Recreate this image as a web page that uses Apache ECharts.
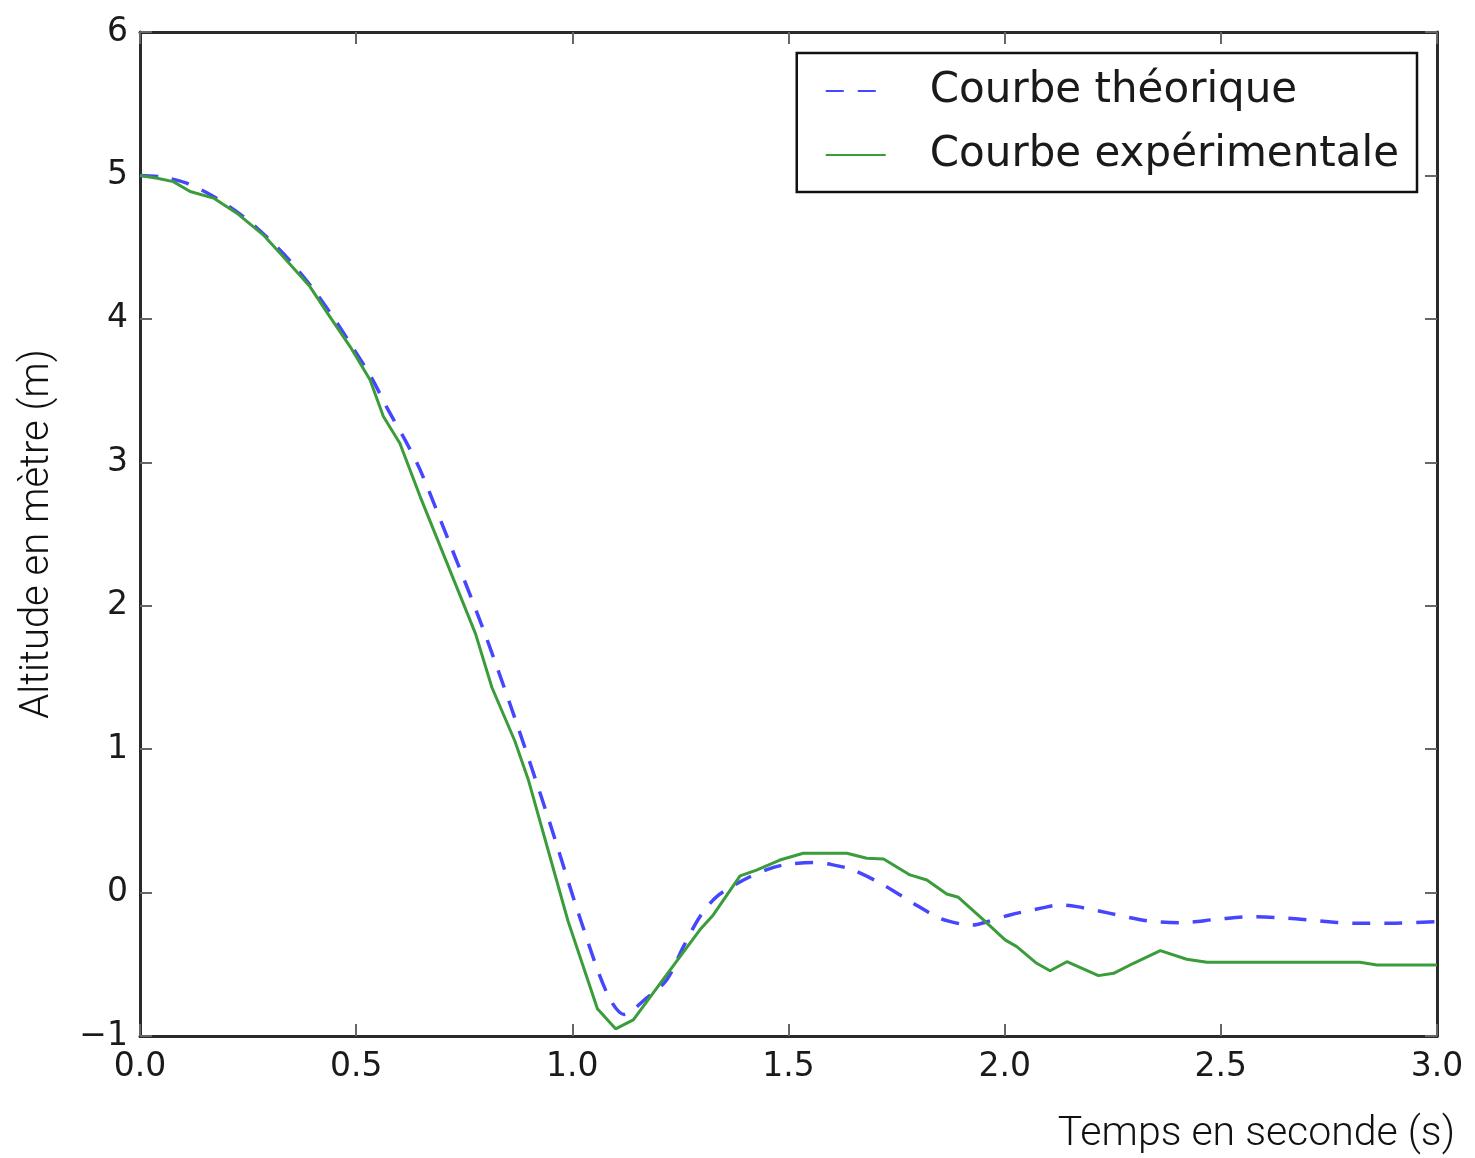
<!DOCTYPE html>
<html lang="fr">
<head>
  <meta charset="UTF-8">
  <title>Altitude</title>
  <script src="https://cdn.jsdelivr.net/npm/echarts@6/dist/echarts.min.js"></script>
</head>
<body style="margin:0">
  <div id="main" style="width:1475px;height:1158px"></div>
  <script>
    // temps (s) et altitude (m)
    var timeTheo = [0, 0.05, 0.108, 0.17, 0.239, 0.30, 0.355, 0.405, 0.451, 0.493, 0.536, 0.574, 0.613, 0.648,
      0.715, 0.791, 0.867, 0.944, 1.02, 1.081, 1.12, 1.17, 1.218, 1.257, 1.295, 1.334, 1.396, 1.45, 1.488,
      1.557, 1.60, 1.65, 1.72, 1.789, 1.85, 1.90, 1.927, 1.959, 2.012, 2.09, 2.128, 2.167, 2.244, 2.329,
      2.406, 2.491, 2.568, 2.653, 2.73, 2.807, 2.891, 3.0]
    var altTheo = [5.0, 4.99, 4.946, 4.853, 4.713, 4.551, 4.377, 4.19, 3.993, 3.796, 3.586, 3.365, 3.156, 2.947,
      2.445, 1.86, 1.217, 0.522, -0.198, -0.707, -0.85, -0.74, -0.61, -0.377, -0.168, -0.028, 0.088, 0.16, 0.192,
      0.209, 0.195, 0.157, 0.053, -0.075, -0.18, -0.22, -0.226, -0.203, -0.156, -0.105, -0.086, -0.098, -0.145, -0.196,
      -0.21, -0.186, -0.168, -0.179, -0.198, -0.214, -0.214, -0.203]

    var timeExp = [0, 0.04, 0.077, 0.116, 0.17, 0.224, 0.285, 0.331, 0.393, 0.439, 0.486, 0.532, 0.563, 0.601,
      0.648, 0.776, 0.814, 0.867, 0.898, 0.990, 1.058, 1.100, 1.141, 1.226, 1.295, 1.326, 1.388, 1.426, 1.48,
      1.534, 1.635, 1.681, 1.72, 1.781, 1.82, 1.866, 1.893, 1.951, 2.001, 2.028, 2.074, 2.105, 2.144, 2.217,
      2.252, 2.298, 2.36, 2.421, 2.468, 2.822, 2.861, 3.0]
    var altExp = [5.0, 4.98, 4.957, 4.888, 4.842, 4.737, 4.586, 4.434, 4.225, 4.016, 3.807, 3.575, 3.319, 3.133,
      2.761, 1.805, 1.43, 1.057, 0.789, -0.198, -0.81, -0.95, -0.888, -0.54, -0.26, -0.156, 0.116, 0.157, 0.227,
      0.274, 0.274, 0.239, 0.234, 0.123, 0.088, -0.01, -0.033, -0.19, -0.33, -0.377, -0.493, -0.545, -0.482, -0.579,
      -0.563, -0.493, -0.405, -0.465, -0.486, -0.486, -0.505, -0.505]

    var theoData = timeTheo.map(function (t, i) { return [t, altTheo[i]] })
    var expData = timeExp.map(function (t, i) { return [t, altExp[i]] })

    var tickFont = { fontFamily: 'DejaVu Sans', fontSize: 33, color: '#1a1a1a' }
    var frame = { show: true, onZero: false, lineStyle: { color: '#2a2a2a', width: 3 } }
    var ticks = { show: true, inside: true, length: 12, lineStyle: { color: '#666', width: 2 } }

    var myChart = echarts.init(document.getElementById('main'))
    var options = {
      backgroundColor: '#fff',
      animation: false,
      grid: { left: 140, right: 38, top: 32, bottom: 122 },
      legend: {
        orient: 'vertical',
        right: 58,
        top: 53,
        padding: [17, 18, 16, 28],
        borderColor: '#111',
        borderWidth: 2.5,
        itemWidth: 60,
        itemHeight: 14,
        itemGap: 22,
        itemStyle: { opacity: 0 },
        textStyle: { fontFamily: 'DejaVu Sans', fontSize: 42, color: '#1a1a1a', padding: [0, 0, 0, 39], lineHeight: 42 },
        data: ['Courbe théorique', 'Courbe expérimentale']
      },
      xAxis: [
        {
          type: 'value', min: 0, max: 3, interval: 0.5,
          axisLine: frame, axisTick: ticks, splitLine: { show: false },
          axisLabel: Object.assign({ margin: 15, formatter: function (v) { return v.toFixed(1) } }, tickFont)
        },
        {
          type: 'value', position: 'top', min: 0, max: 3, interval: 0.5,
          axisLine: frame, axisTick: ticks, splitLine: { show: false }, axisLabel: { show: false }
        }
      ],
      yAxis: [
        {
          type: 'value', min: -1, max: 6, interval: 1,
          axisLine: frame, axisTick: ticks, splitLine: { show: false },
          axisLabel: Object.assign({ margin: 12, formatter: function (v) { return String(v).replace('-', '\u2212') } }, tickFont),
          name: 'Altitude en mètre (m)', nameLocation: 'middle', nameGap: 82, nameRotate: 90,
          nameTextStyle: { fontFamily: 'Roboto', fontWeight: 300, fontSize: 40, color: '#111' }
        },
        {
          type: 'value', position: 'right', min: -1, max: 6, interval: 1,
          axisLine: frame, axisTick: ticks, splitLine: { show: false }, axisLabel: { show: false }
        }
      ],
      graphic: [
        {
          type: 'text', right: 20, top: 1114,
          style: { text: 'Temps en seconde (s)', fontFamily: 'Roboto', fontWeight: 300, fontSize: 41, fill: '#111' }
        }
      ],
      series: [
        {
          name: 'Courbe théorique',
          type: 'line',
          data: theoData,
          symbol: 'none',
          smooth: 0.3,
          lineStyle: { color: '#4646ff', width: 3.5, type: [18, 14] },
          itemStyle: { color: '#4646ff' }
        },
        {
          name: 'Courbe expérimentale',
          type: 'line',
          data: expData,
          symbol: 'none',
          lineStyle: { color: '#3a9c3a', width: 3 },
          itemStyle: { color: '#3a9c3a' }
        }
      ]
    }

    myChart.setOption(options)
  </script>
</body>
</html>
